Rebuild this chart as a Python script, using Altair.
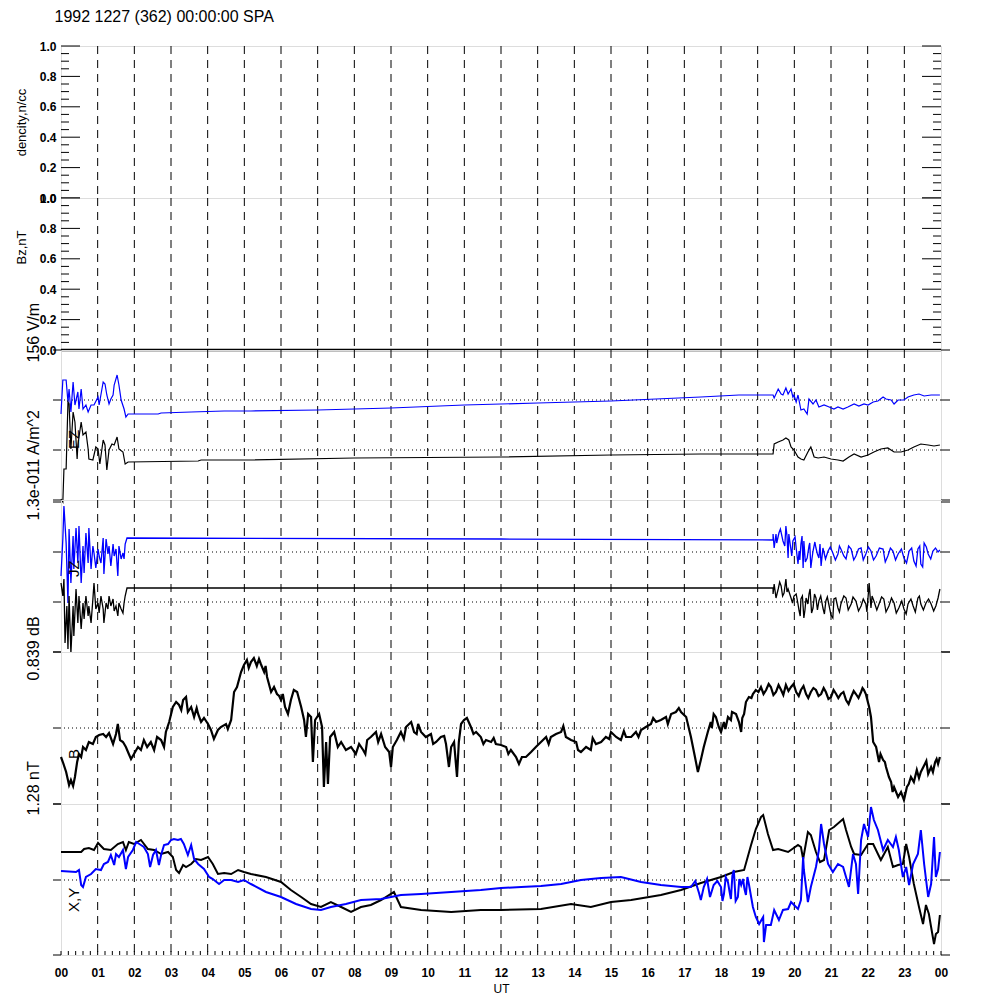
import json
import altair as alt
import pandas as pd

TITLE = "1992 1227 (362) 00:00:00 SPA"
FONT = "Liberation Sans"
BLUE = "#0000ff"

hour_labels = ["00", "01", "02", "03", "04", "05", "06", "07", "08", "09", "10", "11",
               "12", "13", "14", "15", "16", "17", "18", "19", "20", "21", "22", "23", "00"]
hour_ticks = list(range(25))
dashed_hours = list(range(1, 24))
minor_hours = [round(i * 0.2, 2) for i in range(121)]

# panel 1 / 2 y ticks
unit_major = [0.0, 0.2, 0.4, 0.6, 0.8, 1.0]
unit_minor = [0.05, 0.1, 0.15, 0.25, 0.3, 0.35, 0.45, 0.5, 0.55, 0.65, 0.7, 0.75, 0.85, 0.9, 0.95]
bz_level = [0.0]

# ---------------- panel 3 : EZ ----------------
ez_blue_h = [0, 0.05, 0.14, 0.19, 0.22, 0.27, 0.33, 0.38, 0.46, 0.49, 0.55, 0.60, 0.68, 0.74, 0.82, 0.90,
             1.01, 1.04, 1.15, 1.20, 1.25, 1.31, 1.36, 1.42, 1.45, 1.53, 1.58, 1.64, 1.72, 1.77, 1.83,
             2.65, 2.73, 3.55, 4.45, 5.18, 7.0, 9.0, 11.0, 13.0, 15.0, 17.45, 18.49, 19.42,
             19.45, 19.56, 19.64, 19.69, 19.77, 19.83, 19.91, 19.96, 19.99, 20.05, 20.10, 20.18, 20.26,
             20.35, 20.40, 20.51, 20.59, 20.67, 20.81, 20.95, 21.08, 21.19, 21.33, 21.46, 21.63, 21.76,
             21.90, 22.01, 22.15, 22.28, 22.42, 22.50, 22.64, 22.72, 22.83, 22.99, 23.10, 23.26, 23.40,
             23.54, 23.73, 23.86, 23.97]
ez_blue_v = [8.6, 12.0, 12.0, 9.8, 11.1, 8.8, 11.8, 9.5, 10.8, 9.1, 11.1, 9.1, 9.5, 8.8, 9.5, 9.5,
             10.3, 9.5, 11.8, 11.6, 10.5, 9.6, 10.1, 10.5, 11.5, 12.5, 11.5, 10.0, 9.1, 8.3, 8.6,
             8.6, 8.7, 8.8, 8.9, 8.9, 9.0, 9.2, 9.5, 9.7, 9.9, 10.3, 10.5, 10.5,
             10.2, 11.1, 10.6, 10.5, 11.2, 10.6, 11.1, 10.3, 10.5, 9.8, 10.5, 9.0, 9.1,
             8.6, 10.1, 9.6, 10.0, 9.3, 9.5, 9.3, 9.1, 9.3, 9.1, 9.3, 9.6, 9.4,
             9.6, 9.5, 9.8, 9.9, 10.3, 10.1, 10.0, 9.6, 10.0, 10.0, 10.3, 10.5, 10.6,
             10.4, 10.5, 10.5, 10.5]

ez_black_h = [0, 0.05, 0.08, 0.14, 0.19, 0.22, 0.27, 0.33, 0.38, 0.44, 0.46, 0.55, 0.60, 0.68, 0.74, 0.76,
              0.87, 0.95, 1.01, 1.06, 1.15, 1.20, 1.25, 1.31, 1.39, 1.45, 1.53, 1.58, 1.69, 1.75, 1.83,
              3.74, 3.82, 5.18, 8.0, 12.0, 15.0, 17.45, 19.42,
              19.45, 19.56, 19.69, 19.77, 19.85, 19.91, 19.99, 20.10, 20.18, 20.26, 20.37, 20.45, 20.54,
              20.65, 20.81, 21.00, 21.19, 21.33, 21.49, 21.63, 21.82, 22.01, 22.17, 22.36, 22.55, 22.72,
              22.91, 23.10, 23.26, 23.45, 23.65, 23.81, 23.97]
ez_black_v = [0.1, -0.2, 3.1, 3.1, 9.8, 9.6, 5.1, 8.8, 7.8, 4.1, 5.5, 7.8, 6.5, 6.8, 5.1, 4.1,
              4.0, 5.3, 5.1, 3.6, 6.0, 5.5, 3.0, 5.0, 5.6, 5.5, 6.3, 5.1, 4.8, 3.6, 3.8,
              3.9, 4.0, 4.0, 4.2, 4.3, 4.5, 4.6, 4.6,
              5.6, 5.8, 6.0, 6.2, 6.0, 5.3, 5.0, 4.3, 4.1, 4.0, 4.8, 5.3, 4.3,
              4.2, 4.3, 4.1, 4.0, 3.9, 4.3, 4.6, 4.3, 4.5, 4.8, 5.1, 5.2, 4.8,
              4.8, 5.0, 5.3, 5.6, 5.5, 5.4, 5.5]

# ---------------- panel 4 : JZ ----------------
jz_blue_h = [0, 0.05, 0.08, 0.14, 0.19, 0.22, 0.27, 0.33, 0.35, 0.41, 0.46, 0.49, 0.55, 0.60, 0.63, 0.68,
             0.74, 0.76, 0.82, 0.87, 0.90, 0.95, 1.01, 1.04, 1.09, 1.15, 1.17, 1.23, 1.28, 1.31, 1.36,
             1.42, 1.45, 1.50, 1.55, 1.58, 1.64, 1.69, 1.72, 1.75, 1.80, 12.0, 19.42,
             19.42, 19.45, 19.50, 19.58, 19.69, 19.77, 19.83, 19.85, 19.96, 20.05, 20.10, 20.13, 20.18,
             20.24, 20.26, 20.35, 20.40, 20.45, 20.51, 20.59, 20.67, 20.73, 20.78, 20.92, 21.05, 21.19,
             21.27, 21.41, 21.55, 21.68, 21.82, 21.95, 22.09, 22.23, 22.42, 22.55, 22.69, 22.83, 22.99,
             23.13, 23.26, 23.37, 23.45, 23.54, 23.65, 23.78, 23.92, 23.97]
jz_blue_v = [7.6, 11.3, 14.6, 10.9, 4.9, 12.3, 6.9, 11.6, 8.3, 12.4, 8.9, 12.6, 6.9, 10.6, 7.9, 11.9,
             8.9, 12.4, 8.3, 10.6, 9.9, 8.4, 10.3, 9.6, 8.9, 11.4, 7.8, 11.3, 9.8, 10.6, 8.6,
             10.8, 9.6, 10.3, 7.6, 10.6, 9.3, 9.9, 9.3, 10.8, 11.4, 11.3, 11.2,
             11.8, 10.4, 11.8, 11.9, 11.1, 12.6, 9.4, 11.8, 11.1, 10.4, 8.8, 10.1, 10.8,
             8.4, 11.1, 9.4, 10.6, 8.4, 10.1, 10.4, 9.4, 8.6, 10.4, 10.1, 9.9, 9.8,
             10.3, 9.3, 10.3, 9.6, 10.4, 9.8, 10.1, 9.6, 10.3, 9.6, 10.1, 9.8, 9.4,
             10.1, 9.1, 10.3, 8.8, 10.9, 9.8, 10.1, 10.0, 10.2]
jz_blue_h2 = [19.52, 19.62, 19.74, 19.80, 19.93, 20.02, 20.15, 20.21, 20.30, 20.42, 20.48, 20.56,
              20.63, 20.70, 20.85, 20.98, 21.12, 21.23, 21.35, 21.48, 21.62, 21.75, 21.88, 22.02,
              22.16, 22.32, 22.48, 22.62, 22.76, 22.92, 23.06, 23.20, 23.32, 23.42, 23.50, 23.60,
              23.72, 23.85]
jz_blue_v2 = [10.9, 12.3, 10.6, 11.6, 9.6, 11.5, 9.2, 11.6, 9.0, 10.9, 9.3, 11.0,
              9.8, 10.8, 9.3, 10.5, 9.2, 10.6, 9.6, 10.6, 9.2, 10.3, 9.2, 10.5,
              9.2, 10.4, 9.0, 10.4, 9.2, 10.3, 8.9, 10.4, 8.6, 10.6, 8.5, 10.5,
              9.3, 10.4]

jz_black_h = [0, 0.05, 0.08, 0.11, 0.16, 0.19, 0.22, 0.27, 0.33, 0.35, 0.41, 0.46, 0.49, 0.55, 0.60, 0.63,
              0.68, 0.74, 0.76, 0.82, 0.87, 0.90, 0.95, 1.01, 1.04, 1.09, 1.15, 1.17, 1.23, 1.28, 1.31,
              1.36, 1.42, 1.45, 1.50, 1.55, 1.58, 1.64, 1.69, 1.72, 1.75, 1.80, 19.42,
              19.42, 19.45, 19.56, 19.64, 19.72, 19.77, 19.83, 19.91, 19.99, 20.10, 20.13, 20.18, 20.26,
              20.32, 20.37, 20.43, 20.51, 20.59, 20.67, 20.78, 20.86, 20.95, 21.05, 21.08, 21.19, 21.27,
              21.41, 21.55, 21.68, 21.82, 21.95, 22.04, 22.09, 22.17, 22.31, 22.44, 22.58, 22.72, 22.85,
              22.99, 23.10, 23.24, 23.37, 23.45, 23.59, 23.73, 23.86, 23.92, 23.97]
jz_black_v = [6.9, 5.6, 7.3, 0.9, 4.6, 0.3, 5.6, -0.1, 4.6, 1.6, 6.3, 2.9, 5.6, 2.3, 4.9, 3.3,
              5.6, 3.6, 4.6, 2.9, 5.3, 6.9, 4.3, 4.9, 3.9, 5.6, 4.3, 2.9, 4.9, 4.3, 5.6,
              4.6, 5.3, 4.1, 4.6, 3.6, 4.9, 4.3, 3.9, 4.9, 5.6, 6.4, 6.4,
              5.8, 6.8, 6.3, 6.6, 5.9, 7.3, 6.3, 5.4, 5.6, 4.8, 4.1, 5.3, 3.4,
              5.4, 4.8, 6.3, 4.4, 5.4, 5.1, 4.4, 5.1, 4.6, 3.4, 5.3, 4.4, 4.8,
              5.4, 4.8, 5.1, 4.6, 4.8, 6.9, 4.4, 5.1, 4.8, 5.3, 4.6, 4.9, 4.4,
              4.3, 4.8, 4.6, 5.4, 4.8, 4.9, 4.8, 4.6, 5.4, 6.3]
jz_black_h2 = [19.50, 19.60, 19.68, 19.80, 19.95, 20.05, 20.16, 20.22, 20.29, 20.40, 20.47, 20.55,
               20.63, 20.72, 20.82, 20.90, 21.00, 21.13, 21.23, 21.35, 21.47, 21.60, 21.75, 21.88,
               21.98, 22.12, 22.25, 22.38, 22.50, 22.65, 22.78, 22.93, 23.05, 23.18, 23.30, 23.41,
               23.52, 23.66, 23.80]
jz_black_v2 = [5.4, 7.0, 5.6, 6.0, 4.9, 5.8, 3.6, 5.6, 4.2, 5.8, 3.9, 5.8,
               4.2, 5.6, 3.8, 5.5, 3.7, 5.4, 4.0, 5.6, 4.2, 5.5, 4.1, 5.3,
               4.0, 5.6, 4.2, 5.5, 4.0, 5.4, 3.9, 5.1, 3.8, 5.3, 4.0, 5.6,
               4.2, 5.3, 4.1]

# ---------------- panel 5 : B ----------------
b_h = [0, 0.05, 0.14, 0.22, 0.27, 0.33, 0.38, 0.44, 0.49, 0.55, 0.60, 0.68, 0.76, 0.87, 0.95, 1.04,
       1.15, 1.23, 1.31, 1.42, 1.50, 1.55, 1.61, 1.69, 1.77, 1.85, 1.91, 1.99, 2.10, 2.18, 2.26, 2.35,
       2.45, 2.54, 2.62, 2.73, 2.81, 2.86, 2.95, 3.05, 3.14, 3.22, 3.33, 3.41, 3.46, 3.55, 3.63, 3.74,
       3.82, 3.90, 4.01, 4.09, 4.17, 4.28, 4.36, 4.50, 4.64, 4.72, 4.80, 4.91, 4.99, 5.07, 5.18, 5.26,
       5.34, 5.45, 5.54, 5.62, 5.73, 5.81, 5.89, 6.00, 6.11, 6.19, 6.27, 6.35, 6.44, 6.55, 6.63, 6.68,
       6.74, 6.82, 6.87, 6.93, 7.04, 7.12, 7.17, 7.23, 7.28, 7.34, 7.45, 7.55, 7.64, 7.77, 7.91, 8.04,
       8.13, 8.24, 8.35, 8.45, 8.59, 8.73, 8.84, 8.95, 9.00, 9.05, 9.16, 9.27, 9.41, 9.55, 9.63, 9.74,
       9.82, 9.95, 10.09, 10.23, 10.36, 10.50, 10.58, 10.64, 10.72, 10.80, 10.85, 10.91, 10.99, 11.07,
       11.18, 11.32, 11.45, 11.59, 11.73, 11.86, 12.00, 12.14, 12.27, 12.41, 12.49, 12.57, 12.68, 12.82,
       12.95, 13.09, 13.23, 13.36, 13.50, 13.64, 13.77, 13.91, 14.05, 14.18, 14.32, 14.45, 14.59, 14.73,
       14.86, 15.00, 15.14, 15.27, 15.41, 15.55, 15.68, 15.82, 15.95, 16.09, 16.23, 16.36, 16.50, 16.64,
       16.77, 16.91, 17.05, 17.18, 17.29, 17.37, 17.45, 17.53, 17.64, 17.72, 17.80, 17.86, 17.94, 18.00,
       18.08, 18.19, 18.27, 18.41, 18.49, 18.55, 18.63, 18.68, 18.76, 18.87, 18.95, 19.09, 19.23, 19.36,
       19.50, 19.64, 19.77, 19.91, 20.05, 20.18, 20.32, 20.45, 20.59, 20.73, 20.86, 21.00, 21.14, 21.27,
       21.41, 21.55, 21.68, 21.82, 21.90, 21.95, 22.04, 22.09, 22.15, 22.23, 22.31, 22.42, 22.50, 22.58,
       22.64, 22.72, 22.83, 22.91, 22.99, 23.07, 23.18, 23.26, 23.34, 23.45, 23.56, 23.65, 23.73, 23.84,
       23.92, 23.97]
b_v = [4.7, 4.2, 3.2, 1.9, 2.4, 1.8, 2.7, 4.2, 5.0, 4.7, 5.7, 5.4, 6.2, 6.0, 6.7, 6.9,
       7.0, 6.7, 7.1, 6.0, 7.0, 8.0, 6.4, 6.2, 5.7, 5.0, 4.5, 5.0, 5.7, 5.4, 6.4, 5.7,
       6.2, 5.4, 6.7, 6.4, 5.7, 7.2, 8.2, 9.7, 10.2, 9.9, 10.4, 10.7, 9.2, 9.7, 8.7, 9.0,
       8.2, 8.6, 8.0, 7.4, 6.5, 7.4, 7.7, 8.0, 8.4, 11.2, 11.7, 13.2, 13.9, 14.4, 14.2, 14.6,
       13.8, 14.0, 13.2, 12.7, 11.2, 11.7, 11.0, 10.4, 9.7, 9.0, 10.4, 11.4, 11.2, 9.7, 8.4, 6.7,
       9.0, 8.7, 4.2, 8.4, 9.0, 7.7, 1.7, 6.2, 2.0, 6.7, 7.2, 5.7, 6.2, 5.4, 5.7, 5.0,
       6.0, 5.4, 6.4, 6.7, 7.2, 7.0, 5.7, 5.2, 3.7, 5.7, 6.4, 7.2, 7.7, 8.2, 7.2, 8.0,
       7.2, 6.7, 7.0, 6.2, 6.7, 6.0, 3.7, 5.7, 6.2, 2.7, 6.2, 8.0, 8.4, 8.6,
       7.7, 7.2, 6.7, 6.4, 6.2, 6.0, 5.9, 5.7, 5.4, 4.7, 4.0, 4.7, 4.7, 5.2,
       5.7, 6.2, 6.7, 6.7, 7.0, 7.2, 6.7, 6.4, 6.2, 5.2, 5.7, 5.4, 6.0, 6.2,
       6.7, 7.2, 6.7, 6.4, 6.7, 6.7, 7.2, 7.4, 7.7, 8.0, 8.2, 8.4, 8.7, 9.0,
       9.2, 9.2, 8.7, 6.7, 4.7, 3.2, 4.4, 5.7, 7.2, 8.2, 9.0, 8.7, 7.7, 7.2,
       8.2, 8.7, 8.4, 9.0, 8.2, 7.2, 9.0, 10.2, 10.7, 11.0, 11.4, 11.7, 11.4, 11.7,
       11.2, 11.4, 11.9, 11.7, 11.2, 11.4, 11.0, 11.2, 11.4, 11.0, 11.2, 10.7, 11.0, 11.0,
       10.4, 10.7, 11.0, 11.2, 11.4, 11.0, 9.7, 8.7, 6.2, 5.7, 4.2, 4.4, 3.7, 2.7,
       2.2, 1.7, 0.7, 1.2, 0.4, 1.7, 2.7, 2.2, 3.4, 3.2, 4.0, 3.0, 3.7, 4.2,
       4.0, 4.7]
b_h2 = [3.28, 3.70, 4.55, 5.12, 5.40, 5.58, 5.95, 6.05, 8.30, 8.65, 9.35, 9.70, 10.15, 10.45,
        11.25, 11.52, 11.80, 12.20, 13.30, 13.70, 14.10, 14.50, 14.95, 15.35, 15.75, 16.15, 16.55,
        16.85, 17.75, 18.12, 18.30, 18.58, 18.83, 19.02, 19.16, 19.30, 19.43, 19.57, 19.70, 19.84,
        19.98, 20.12, 20.25, 20.38, 20.52, 20.66, 20.80, 20.93, 21.07, 21.20, 21.34, 21.48, 21.62,
        21.75, 21.86, 22.35, 22.47, 22.68, 23.12, 23.40, 23.60, 23.78, 23.88]
b_v2 = [9.4, 9.6, 7.5, 13.6, 14.5, 13.8, 10.8, 11.0, 5.0, 6.2, 6.5, 7.0, 6.0, 6.8,
        7.0, 6.0, 6.6, 5.0, 6.0, 7.8, 5.4, 6.6, 6.5, 7.3, 6.7, 8.6, 8.0,
        9.6, 7.6, 7.5, 9.2, 8.6, 10.6, 11.2, 11.0, 12.0, 10.9, 11.9, 10.9, 11.3,
        12.0, 10.8, 11.8, 10.6, 11.6, 10.8, 11.6, 10.5, 11.4, 10.6, 11.2, 10.0, 11.3,
        10.6, 11.6, 5.0, 4.2, 1.2, 2.0, 2.6, 4.3, 3.2, 4.5]

# ---------------- panel 6 : X (black), Y (blue) ----------------
x_h = [0, 0.55, 0.63, 0.76, 0.90, 1.01, 1.17, 1.36, 1.55, 1.69, 1.77, 1.85, 1.99, 2.18, 2.37, 2.54,
       2.73, 2.92, 3.05, 3.14, 3.22, 3.33, 3.41, 3.55, 3.68, 3.82, 4.01, 4.14, 4.28, 4.45, 4.64, 4.83,
       4.99, 5.18, 5.59, 6.00, 6.27, 6.55, 6.82, 7.09, 7.36, 7.64, 7.91, 8.18, 8.45, 8.73, 9.08, 9.27,
       9.82, 10.64, 11.45, 12.00, 13.09, 13.91, 14.45, 15.00, 15.55, 16.36, 16.91, 17.45, 18.00, 18.35,
       18.63, 18.82, 18.95, 19.09, 19.15, 19.28, 19.42, 19.56, 19.83, 20.10, 20.18, 20.24, 20.37, 20.45,
       20.59, 20.70, 20.81, 20.95, 21.08, 21.33, 21.41, 21.55, 21.63, 21.82, 22.01, 22.15, 22.28, 22.36,
       22.55, 22.69, 22.83, 22.96, 23.05, 23.13, 23.26, 23.40, 23.51, 23.59, 23.67, 23.73, 23.81, 23.86,
       23.92, 23.97]
x_v = [10.3, 10.3, 10.6, 10.7, 10.5, 11.2, 10.6, 10.5, 11.1, 11.3, 10.5, 11.3, 11.1, 11.5, 10.6, 10.5,
       10.1, 10.3, 9.8, 8.5, 8.2, 9.0, 8.8, 9.1, 9.6, 9.5, 9.8, 9.1, 8.1, 8.2, 8.1, 8.5,
       8.3, 8.1, 7.8, 7.3, 6.5, 5.8, 5.1, 4.8, 5.3, 4.8, 4.3, 4.8, 5.0, 5.5, 6.3, 4.8,
       4.5, 4.3, 4.5, 4.5, 4.6, 5.1, 4.8, 5.3, 5.5, 6.0, 6.5, 7.2, 7.8, 8.3,
       8.5, 11.0, 12.6, 13.8, 14.0, 12.1, 10.5, 10.6, 10.3, 11.0, 10.8, 9.6, 12.3, 12.0,
       10.3, 9.3, 9.5, 12.5, 12.8, 13.6, 12.5, 10.8, 10.1, 10.0, 11.1, 11.1, 10.1, 9.5,
       10.8, 8.8, 9.0, 9.1, 11.1, 9.8, 7.1, 4.8, 3.1, 5.0, 4.1, 2.8, 1.1, 2.1,
       2.3, 4.0]

y_h = [0, 0.41, 0.49, 0.55, 0.60, 0.68, 0.82, 0.95, 1.09, 1.17, 1.28, 1.36, 1.45, 1.50, 1.58, 1.69,
       1.77, 1.83, 1.96, 2.05, 2.18, 2.26, 2.37, 2.43, 2.51, 2.59, 2.67, 2.73, 2.81, 2.92, 3.00, 3.08,
       3.19, 3.27, 3.35, 3.46, 3.55, 3.63, 3.74, 3.90, 4.04, 4.14, 4.31, 4.45, 4.64, 4.83, 4.99, 5.18,
       5.59, 6.00, 6.41, 6.82, 7.09, 7.36, 7.77, 8.18, 8.73, 9.27, 9.82, 10.64, 11.45, 12.00, 12.55,
       13.09, 13.64, 14.18, 14.73, 15.27, 15.82, 16.36, 16.91, 17.18, 17.45, 17.53, 17.80, 18.00, 18.08,
       18.19, 18.27, 18.35, 18.46, 18.55, 18.60, 18.68, 18.76, 18.87, 18.95, 19.04, 19.15, 19.17, 19.23,
       19.36, 19.45, 19.58, 19.69, 19.83, 19.91, 20.10, 20.18, 20.24, 20.26, 20.37, 20.45, 20.59, 20.67,
       20.73, 20.81, 20.92, 21.05, 21.19, 21.33, 21.41, 21.49, 21.60, 21.68, 21.74, 21.82, 21.90, 22.01,
       22.09, 22.17, 22.28, 22.42, 22.55, 22.69, 22.77, 22.85, 22.96, 23.05, 23.13, 23.24, 23.37, 23.45,
       23.54, 23.65, 23.73, 23.81, 23.86, 23.92, 23.97]
y_v = [8.4, 8.3, 8.5, 7.0, 6.8, 7.8, 8.1, 8.6, 8.5, 9.1, 9.3, 10.0, 9.0, 10.1, 9.8, 10.5,
       8.6, 9.8, 10.5, 11.3, 11.0, 10.8, 10.1, 8.8, 10.0, 10.5, 9.0, 10.0, 11.0, 11.1, 11.5, 11.6,
       11.5, 11.6, 11.1, 10.0, 11.0, 9.6, 9.1, 8.6, 7.8, 7.6, 7.1, 7.5, 7.5, 7.3, 7.5, 7.1,
       6.3, 5.8, 5.1, 4.6, 4.5, 4.8, 5.1, 5.5, 5.6, 6.0, 6.1, 6.3, 6.5, 6.7, 6.8,
       6.9, 7.1, 7.5, 7.7, 7.8, 7.3, 7.0, 6.8, 6.8, 5.5, 6.8, 7.0, 6.8, 6.1,
       7.3, 5.6, 8.5, 5.8, 7.0, 7.6, 6.0, 7.1, 4.8, 3.8, 3.1, 3.8, 1.3, 3.0,
       3.0, 4.5, 3.5, 4.5, 4.6, 5.3, 4.6, 5.5, 9.8, 8.5, 5.3, 6.8, 8.8, 10.5,
       13.1, 11.1, 9.1, 8.3, 9.1, 8.8, 7.8, 6.8, 10.1, 9.1, 6.1, 11.5, 13.1, 11.8,
       14.8, 13.5, 12.5, 10.5, 11.5, 10.8, 11.8, 10.5, 7.8, 8.8, 7.0, 9.1, 10.1, 12.5,
       9.1, 5.8, 7.1, 11.8, 7.8, 8.6, 10.3]
y_h2 = [17.30, 17.40, 17.62, 17.70, 17.90, 18.04, 18.13, 18.23, 18.31, 18.40, 18.50, 18.64, 18.72]
y_v2 = [7.4, 6.2, 7.6, 5.8, 7.4, 5.4, 7.8, 6.4, 7.9, 5.4, 7.6, 6.6, 7.8]

panel_labels = ["dencity,n/cc", "Bz,nT", "156 V/m", "1.3e-011 A/m^2", "0.839 dB", "1.28 nT"]
inner_labels = ["EZ", "JZ", "B", "X,Y"]
three_levels = [0.0, 5.0, 10.0, 15.0]
ez_refs = [5.0, 10.0]
jz_refs = [5.0, 10.0]
b_refs = [7.6]
xy_refs = [7.5]
b_ticks = [0.0, 7.6, 15.2]
xy_ticks = [0.0, 7.5, 15.1]

W = 880
HEIGHTS = [152, 152, 150, 152, 152, 151]

XSCALE = alt.Scale(domain=[0, 24], nice=False, zero=False)

x_axis = alt.Axis(values=hour_ticks, labelExpr=json.dumps(hour_labels) + "[datum.value]",
                  tickSize=0, labelPadding=12, domain=False, grid=False, labelFontSize=12,
                  labelFont=FONT, labelFontWeight="bold", labelColor="black", labelFlush=False,
                  labelOverlap=False,
                  title="UT", titleFontSize=12, titleFont=FONT, titleFontWeight="normal",
                  titleColor="black", titlePadding=5)


def df(h, v):
    return pd.DataFrame({"h": h, "v": v}).sort_values("h")


def hour_lines(X):
    return alt.Chart(pd.DataFrame({"h": dashed_hours})).mark_rule(
        color="black", strokeWidth=1, strokeDash=[8, 6]).encode(x=X)


def ref_lines(vals, Y):
    return alt.Chart(pd.DataFrame({"v": vals})).mark_rule(
        color="black", strokeWidth=1, strokeDash=[1, 3]).encode(y=Y)


def trace(h, v, color, X, Y, width):
    return alt.Chart(df(h, v)).mark_line(color=color, strokeWidth=width, clip=False,
                                         interpolate="linear").encode(x=X, y=Y)


def tick_rules(vals, Y, x0, x1):
    return alt.Chart(pd.DataFrame({"v": vals})).mark_rule(color="black", strokeWidth=1).encode(
        y=Y, x=alt.value(x0), x2=alt.value(x1))


def inner_text(label, ypos):
    return alt.Chart(pd.DataFrame({"t": [label]})).mark_text(
        angle=270, align="left", baseline="middle", fontSize=15, font=FONT, color="black").encode(
        text="t:N", x=alt.value(13), y=alt.value(ypos))


def unit_panel(title, height, title_y, bz=False):
    X = alt.X("h:Q", scale=XSCALE, axis=None)
    ax = alt.Axis(values=unit_major, format=".1f", tickSize=0, labelPadding=5, domain=False,
                  grid=False, labelFontSize=12, labelFont=FONT, labelFontWeight="bold",
                  labelColor="black", labelFlush=False, labelOverlap=False,
                  title=title, titleFontSize=13, titleFont=FONT, titleFontWeight="normal",
                  titleColor="black", titleX=-40, titleY=title_y, titleAlign="center",
                  titleBaseline="middle", titleAngle=270)
    Y = alt.Y("v:Q", scale=alt.Scale(domain=[0, 1], nice=False, zero=False), axis=ax)
    layers = [hour_lines(X),
              tick_rules(unit_major, Y, 0, 19), tick_rules(unit_minor, Y, 0, 8),
              tick_rules(unit_major, Y, W, W - 19), tick_rules(unit_minor, Y, W, W - 8)]
    if bz:
        layers.append(alt.Chart(pd.DataFrame({"v": bz_level})).mark_rule(
            color="black", strokeWidth=2.5).encode(y=Y))
    return alt.layer(*layers).properties(width=W, height=height)


def trace_panel(title, height, dom, title_y, ticks, refs, traces, label, label_y, xaxis=None):
    X = alt.X("h:Q", scale=XSCALE, axis=xaxis)
    ax = alt.Axis(ticks=False, labels=False, domain=False, grid=False, title=title,
                  titleFontSize=16, titleFont=FONT, titleFontWeight="normal", titleColor="black",
                  titleX=-28, titleY=title_y, titleAlign="left", titleBaseline="middle",
                  titleAngle=270)
    Y = alt.Y("v:Q", scale=alt.Scale(domain=dom, nice=False, zero=False), axis=ax)
    layers = [hour_lines(X), ref_lines(refs, Y),
              tick_rules(ticks, Y, -8, 0), tick_rules(ticks, Y, W, W + 9)]
    for h, v, c, w in traces:
        layers.append(trace(h, v, c, X, Y, w))
    layers.append(inner_text(label, label_y))
    if xaxis is not None:
        layers.append(alt.Chart(pd.DataFrame({"h": minor_hours})).mark_rule(
            color="black", strokeWidth=1).encode(x=X, y=alt.value(height), y2=alt.value(height - 4)))
    return alt.layer(*layers).properties(width=W, height=height)


p1 = unit_panel(panel_labels[0], HEIGHTS[0], 76)
p2 = unit_panel(panel_labels[1], HEIGHTS[1], 49, bz=True)
p3 = trace_panel(panel_labels[2], HEIGHTS[2], [0, 15], 12, three_levels, ez_refs,
                 [(ez_blue_h, ez_blue_v, BLUE, 1.2), (ez_black_h, ez_black_v, "black", 1.2)],
                 inner_labels[0], 99)
p4 = trace_panel(panel_labels[3], HEIGHTS[3], [0, 15.2], 20, three_levels, jz_refs,
                 [(jz_blue_h + jz_blue_h2, jz_blue_v + jz_blue_v2, BLUE, 1.3),
                  (jz_black_h + jz_black_h2, jz_black_v + jz_black_v2, "black", 1.3)],
                 inner_labels[1], 77)
p5 = trace_panel(panel_labels[4], HEIGHTS[4], [0, 15.2], 28, b_ticks, b_refs,
                 [(b_h + b_h2, b_v + b_v2, "black", 2.2)], inner_labels[2], 107)
p6 = trace_panel(panel_labels[5], HEIGHTS[5], [0, 15.1], 11, xy_ticks, xy_refs,
                 [(x_h, x_v, "black", 2.0), (y_h + y_h2, y_v + y_v2, BLUE, 2.0)],
                 inner_labels[3], 108, xaxis=x_axis)

chart = alt.vconcat(p1, p2, p3, p4, p5, p6, spacing=0, bounds="flush").properties(
    title=alt.TitleParams(TITLE, anchor="start", dx=40, fontSize=16, font=FONT,
                          fontWeight="normal", color="black", offset=15)
).configure_view(stroke="black", strokeWidth=1).configure(
    padding={"left": 6, "top": 0, "right": 0, "bottom": 0}, font=FONT, background="white")

chart.save("out.html", embed_options={"renderer": "svg", "actions": False})
